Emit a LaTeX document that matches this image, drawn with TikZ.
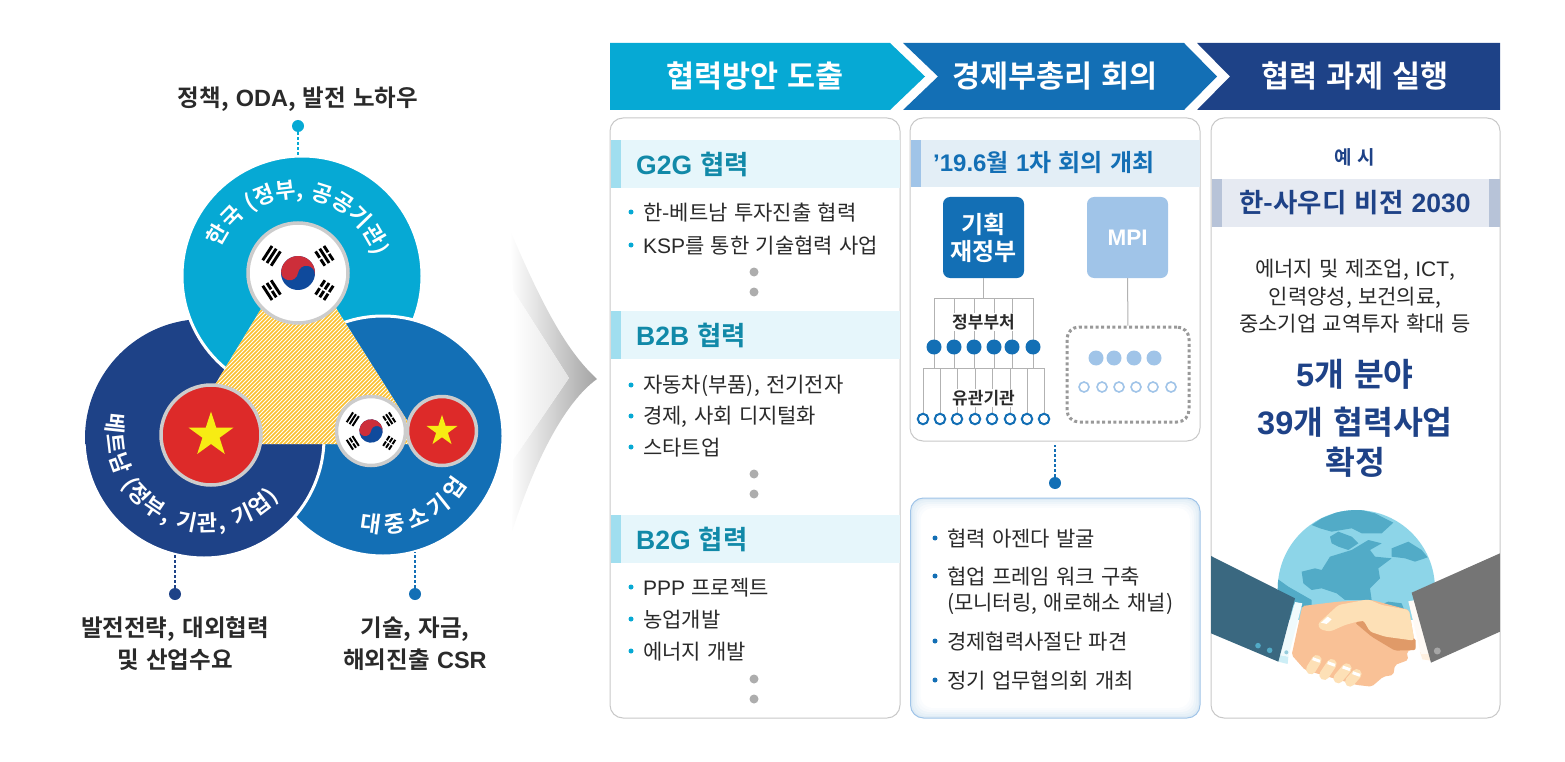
\documentclass[tikz,border=0pt]{standalone}
\usepackage{fontspec}
\usetikzlibrary{decorations.text}
\setmainfont{Noto Sans CJK KR}[BoldFont={Noto Sans CJK KR Bold},WordSpace=1.35]
\newfontfamily\la{Liberation Sans}
\definecolor{cyanc}{HTML}{06A9D4}
\definecolor{bluec}{HTML}{136FB5}
\definecolor{navyc}{HTML}{1E4287}
\definecolor{txtc}{HTML}{2A2A2A}
\definecolor{paleb}{HTML}{A0C4E8}
\definecolor{tealc}{HTML}{1189A8}
\definecolor{rimc}{HTML}{C8C8C8}
\definecolor{redc}{HTML}{DD2A29}
\definecolor{skin}{HTML}{F9C196}
\definecolor{skinl}{HTML}{FDE0B6}
\definecolor{skind}{HTML}{E09A68}
\definecolor{glight}{HTML}{8DD5E8}
\definecolor{gdark}{HTML}{52ABC7}
\definecolor{sleeve}{HTML}{3A6880}
\definecolor{kred}{HTML}{CD2E3A}
\definecolor{kblue}{HTML}{0F4A9C}
\definecolor{vstar}{HTML}{F7EC13}
\definecolor{hatchc}{HTML}{FBC02D}
\newcommand{\fs}[1]{\fontsize{#1}{#1}\selectfont}
\tikzset{
 panel/.style={draw=rimc,line width=1pt,fill=white,rounded corners=13pt},
 lab/.style={text=txtc,font=\fs{23.5}\bfseries,align=center,inner sep=0pt},
 hd/.style={text=white,font=\fs{30.5}\bfseries,inner sep=0pt},
 sect/.style={text=tealc,font=\fs{26.5}\bfseries,anchor=west,inner sep=0pt},
 item/.style={text=txtc,font=\fs{21},anchor=west,inner sep=0pt},
 bul/.style={circle,inner sep=0pt,minimum size=5pt,fill=cyanc},
 gdot/.style={circle,inner sep=0pt,minimum size=9pt,fill=black!32},
 conn/.style={line width=2.4pt,dash pattern=on 2.4pt off 2.6pt},
 tree/.style={draw=black!30,line width=1pt},
 bdot/.style={circle,inner sep=0pt,minimum size=15pt,fill=bluec},
 bring/.style={circle,inner sep=0pt,minimum size=10.5pt,draw=bluec,line width=2pt,fill=white},
 pdot/.style={circle,inner sep=0pt,minimum size=15pt,fill=paleb},
 pring/.style={circle,inner sep=0pt,minimum size=10pt,draw=paleb,line width=1.6pt,fill=white},
 org/.style={minimum width=81pt,minimum height=81pt,inner sep=0pt,rounded corners=7pt,text=white,align=center},
 sm/.style={text=txtc,font=\fs{17}\bfseries,fill=white,inner xsep=1pt,inner ysep=1pt},
}
% Korean flag
\newcommand{\krflag}[4]{%
 \node[circle,inner sep=0pt,minimum size=#4*2pt,fill=white,draw=black!20,line width=3.5pt] (#1) at (#2,#3) {};
 \begin{scope}[shift={(#2,#3)},x=#4pt,y=#4pt]
  \begin{scope}[rotate=-8,scale=.34]
   \fill[kblue] (0,0) circle[radius=1];
   \fill[kred] (-1,0) arc[start angle=180,end angle=0,radius=1] arc[start angle=0,end angle=180,radius=.5] arc[start angle=0,end angle=-180,radius=.5] -- cycle;
  \end{scope}
  \foreach \ang/\ba/\bb/\bc in {147/0/0/0,33/1/0/1,213/0/1/0,327/1/1/1}{
   \begin{scope}[rotate=\ang]
    \foreach \pos/\sp in {.53/\ba,.63/\bb,.73/\bc}{
     \ifnum\sp=0
      \draw[black,line width=#4*.058pt] (\pos,-.17) -- (\pos,.17);
     \else
      \draw[black,line width=#4*.058pt] (\pos,-.17) -- (\pos,-.02) (\pos,.02) -- (\pos,.17);
     \fi}
   \end{scope}}
 \end{scope}}
% Vietnamese flag
\newcommand{\vnflag}[4]{%
 \node[circle,inner sep=0pt,minimum size=#4*2pt,fill=redc,draw=black!20,line width=3.5pt] (#1) at (#2,#3) {};
 \begin{scope}[shift={(#2,#3)},x=#4pt,y=#4pt]
  \fill[vstar] (90:.47) -- (126:.18) -- (162:.47) -- (198:.18) -- (234:.47) -- (270:.18) -- (306:.47) -- (342:.18) -- (18:.47) -- (54:.18) -- cycle;
 \end{scope}}
\begin{document}
\begin{tikzpicture}[x=1pt,y=-1pt]
\path[use as bounding box] (0,0) rectangle (1565,762);
% ---------- three circles
\coordinate (cV) at (204,438);
\coordinate (cK) at (302,276);
\coordinate (cB) at (383,436);
\fill[navyc] (cV) circle[radius=119pt];
\draw[fill=cyanc,draw=white,line width=3pt] (cK) circle[radius=120pt];
\draw[fill=bluec,draw=white,line width=3pt] (cB) circle[radius=120pt];
\begin{scope}
 \clip (0,444) rectangle (600,600);
 \draw[fill=navyc,draw=white,line width=3pt] (cV) circle[radius=120pt];
\end{scope}
% hatched triangle
\begin{scope}
 \clip (298,248) -- (422,444) -- (179,444) -- cycle;
 \fill[white] (150,240) rectangle (440,450);
 \foreach \k in {300,304,...,900}{
  \draw[hatchc,line width=1.7pt] (\k,240) -- (\k-210,450);}
\end{scope}
\krflag{fK}{298}{273}{50}
\vnflag{fV}{211}{435}{50}
\krflag{fK2}{371}{431}{34.5}
\vnflag{fV2}{442}{431}{34.5}
% curved titles
\begin{scope}[shift={(296,280)},x=1pt,y=1pt]
 \path[decorate,decoration={text along path,text align={fit to path},
  text={|\fs{22}\bfseries\color{white}|한국 (정부, 공공기관)}}] (157:82) arc[start angle=157,end angle=17,radius=82];
\end{scope}
\begin{scope}[shift={(205,433)},x=1pt,y=1pt]
 \path[decorate,decoration={text along path,text align={fit to path},
  text={|\fs{22}\bfseries\color{white}|베트남 (정부, 기관, 기업)}}] (168:98) arc[start angle=168,end angle=319,radius=98];
\end{scope}
\begin{scope}[shift={(383,436)},x=1pt,y=1pt]
 \path[decorate,decoration={text along path,text align={fit to path},
  text={|\fs{22.5}\bfseries\color{white}|대중소기업}}] (256:97) arc[start angle=256,end angle=330,radius=97];
\end{scope}
% left labels and connectors
\node[lab] (lK) at (298,99.5) {정책, {\la ODA}, 발전 노하우};
\node[lab] (lV) at (175,643.5) {발전전략, 대외협력\\[6pt]및 산업수요};
\node[lab] (lB) at (415,643.5) {기술, 자금,\\[6pt]해외진출 {\la CSR}};
\node[circle,fill=cyanc,inner sep=0pt,minimum size=12pt] (dK) at (298,126) {};
\node[circle,fill=navyc,inner sep=0pt,minimum size=12pt] (dV) at (175,594) {};
\node[circle,fill=bluec,inner sep=0pt,minimum size=12pt] (dB) at (415,594) {};
\coordinate (eK) at (298,155); \coordinate (eV) at (175,555); \coordinate (eB) at (415,552);
\draw[conn,cyanc] (dK) -- (eK);
\draw[conn,navyc] (dV) -- (eV);
\draw[conn,bluec] (dB) -- (eB);
% big fading chevron
\path[left color=white,right color=black!36]
 (510,230) .. controls (540,300) and (565,350) .. (597,379) .. controls (565,402) and (535,460) .. (512,532) -- (513,460) -- (569,378) -- (513,290) -- cycle;
\path[left color=white,right color=black!11] (513,290) -- (569,378) -- (513,460) -- cycle;
% ---------- header arrows
\fill[cyanc] (610,43) -- (890,43) -- (925,76.5) -- (890,110) -- (610,110) -- cycle;
\fill[bluec] (903,43) -- (1184,43) -- (1217,76.5) -- (1184,110) -- (903,110) -- (938,76.5) -- cycle;
\fill[navyc] (1197,43) -- (1500,43) -- (1500,110) -- (1197,110) -- (1230,76.5) -- cycle;
\node[hd] (h1) at (755,76) {협력방안 도출};
\node[hd] (h2) at (1055,76) {경제부총리 회의};
\node[hd] (h3) at (1355,76) {협력 과제 실행};
% ---------- panels
\draw[panel] (610,118) rectangle (900,718);
\draw[panel] (910,118) rectangle (1200,441);
\draw[panel] (1211,118) rectangle (1500,718);
% panel 1
\foreach \yy in {140,311,515}{
 \fill[cyanc!10] (621,\yy) rectangle (899.5,\yy+48);
 \fill[cyanc!38] (610.5,\yy) rectangle (621,\yy+48);}
\node[sect] (s1) at (636,164) {{\la G2G} 협력};
\node[sect] (s2) at (636,335) {{\la B2B} 협력};
\node[sect] (s3) at (636,539) {{\la B2G} 협력};
\foreach \nm/\yy/\tx in {a/212/{한-베트남 투자진출 협력},b/245/{{\la KSP}를 통한 기술협력 사업},c/385/{자동차(부품), 전기전자},d/416/{경제, 사회 디지털화},e/447/{스타트업},f/587/{{\la PPP} 프로젝트},g/619/{농업개발},i/651/{에너지 개발}}{
 \node[bul] (bu\nm) at (631,\yy) {};
 \node[item] (it\nm) at (643,\yy+1) {\tx};}
\foreach \yy in {272,292,474,494,679,699}{
 \node[gdot] (gd\yy) at (754,\yy) {};}
% panel 2
\fill[bluec!12] (921,140) rectangle (1199.5,187);
\fill[paleb] (910.5,140) rectangle (921,187);
\node[text=bluec,font=\fs{24}\bfseries,anchor=west,inner sep=0pt] (s4) at (933,163) {{\la ’19.6}월 {\la 1}차 회의 개최};
\node[org,fill=bluec,font=\fs{24}\bfseries] (mofe) at (983.5,237.5) {기획\\[3pt]재정부};
\node[org,fill=paleb,font=\fs{22.5}\bfseries] (mpi) at (1127.5,237.5) {\la MPI};
\coordinate (t0) at (983.5,298);
\draw[tree] (mofe) -- (t0);
\foreach \i/\xx in {1/934,2/954,3/974,4/994,5/1012,6/1033}{
 \coordinate (t\i) at (\xx,298);
 \coordinate (u\i) at (\xx,368);
 \draw[tree] (t\i) -- (u\i);}
\draw[tree] (t1) -- (t6);
\foreach \i/\xx in {1/923,2/940,3/957,4/975,5/992,6/1010,7/1027,8/1044}{
 \coordinate (v\i) at (\xx,368);
 \coordinate (w\i) at (\xx,419);
 \draw[tree] (v\i) -- (w\i);}
\draw[tree] (v1) -- (v8);
\foreach \i/\xx in {1/934,2/954,3/974,4/994,5/1012,6/1033}{
 \node[bdot] (g\i) at (\xx,347) {};}
\foreach \i/\xx in {1/923,2/940,3/957,4/975,5/992,6/1010,7/1027,8/1044}{
 \node[bring] (r\i) at (\xx,419) {};}
\node[sm] (n1) at (983.5,322) {정부부처};
\node[sm] (n2) at (983.5,398) {유관기관};
\node[draw=black!40,line width=3pt,dash pattern=on 3pt off 2.6pt,rounded corners=12pt,minimum width=122pt,minimum height=95pt,inner sep=0pt] (mbox) at (1128,374.5) {};
\draw[tree] (mpi) -- (mbox);
\foreach \xx in {1096,1114,1134,1154}{ \node[pdot] (p\xx) at (\xx,358) {}; }
\foreach \xx in {1084,1102,1119,1136,1153,1171}{ \node[pring] (q\xx) at (\xx,387) {}; }
% connector between the blue panels
\node[circle,fill=bluec,inner sep=0pt,minimum size=12pt] (dC) at (1055,483) {};
\coordinate (eC) at (1055,445);
\draw[conn,bluec] (dC) -- (eC);
% panel 2b with inner glow
\draw[rounded corners=13pt,draw=paleb,line width=1pt,fill=bluec!14] (910.5,498) rectangle (1200,718);
\foreach \st/\op in {2/10,4/7,6/4,8/2,10/0}{
 \fill[rounded corners=12pt,fill=bluec!\op!white] (910.5+\st,498+\st) rectangle (1200-\st,718-\st);}
\foreach \nm/\yy/\tx in {a/538/{협력 아젠다 발굴},b/576/{협업 프레임 워크 구축},d/641/{경제협력사절단 파견},e/680/{정기 업무협의회 개최}}{
 \node[bul,fill=bluec] (cu\nm) at (935,\yy) {};
 \node[item] (ct\nm) at (947,\yy+1) {\tx};}
\node[item] (ctc) at (947,604) {(모니터링, 애로해소 채널)};
% panel 3
\node[text=navyc,font=\fs{19}\bfseries,inner sep=0pt] (ex) at (1355,157) {예 시};
\fill[navyc!11] (1222,179) rectangle (1489,227);
\fill[navyc!32] (1211.5,179) rectangle (1222,227);
\fill[navyc!32] (1489,179) rectangle (1499.5,227);
\node[text=navyc,font=\fs{26.5}\bfseries,inner sep=0pt] (s5) at (1355,203) {한-사우디 비전 {\la 2030}};
\node[text=txtc,font=\fs{21},inner sep=0pt,align=center] (desc) at (1355,296.5) {에너지 및 제조업, {\la ICT},\\[5pt]인력양성, 보건의료,\\[5pt]중소기업 교역투자 확대 등};
\node[text=navyc,font=\fs{32.5}\bfseries,inner sep=0pt] (big1) at (1355,374) {{\la 5}개 분야};
\node[text=navyc,font=\fs{32.5}\bfseries,inner sep=0pt] (big2) at (1355,422) {{\la 39}개 협력사업};
\node[text=navyc,font=\fs{32.5}\bfseries,inner sep=0pt] (big3) at (1355,462) {확정};
% ---------- globe and handshake (coordinates of the crop)
\begin{scope}[shift={(1205,500)},x=.3333pt,y=-.3333pt]
 \begin{scope}
  \clip (454,266) circle[radius=78.6pt];
  \fill[glight] (200,20) rectangle (710,360);
  \fill[gdark] (320,75) -- (350,55) -- (400,35) -- (450,25) -- (510,40) -- (565,68) -- (530,100) -- (470,100) -- (440,85) -- (380,95) -- (345,85) -- cycle;
  \fill[gdark] (375,110) -- (400,95) -- (440,110) -- (460,130) -- (430,150) -- (400,140) -- (380,130) -- cycle;
  \fill[gdark] (375,170) -- (440,150) -- (490,120) -- (530,130) -- (495,150) -- (510,170) -- (560,175) -- (520,205) -- (525,235) -- (495,265) -- (500,300) -- (420,300) -- (395,280) -- (350,265) -- (320,270) -- (295,250) -- (290,215) -- (330,205) -- (350,210) -- cycle;
  \fill[gdark] (560,145) -- (610,125) -- (650,150) -- (668,172) -- (630,185) -- (600,175) -- (560,170) -- cycle;
  \fill[gdark] (215,235) -- (250,260) -- (320,300) -- (320,330) -- (215,300) -- cycle;
  \fill[gdark] (525,315) -- (550,305) -- (590,310) -- (600,335) -- (530,335) -- cycle;
 \end{scope}
 % hands
 \fill[skin,rounded corners=2pt] (292,318) -- (400,305) -- (500,300) -- (612,330) -- (632,445) -- (605,455) -- (610,480) -- (570,495) -- (565,525) -- (535,530) -- (500,560) -- (455,555) -- (300,510) -- (260,465) -- cycle;
 \fill[skind,rounded corners=2pt] (450,368) -- (480,362) -- (510,400) -- (632,415) -- (632,450) -- (570,452) -- (500,410) -- cycle;
 \fill[skinl,rounded corners=3pt] (338,372) -- (400,315) -- (490,298) -- (530,315) -- (612,330) -- (628,422) -- (540,410) -- (495,395) -- (475,360) -- (420,375) -- (375,395) -- (345,388) -- cycle;
 \fill[white] (348,368) -- (368,350) -- (380,358) -- (365,372) -- cycle;
 \foreach \xa/\ya/\xb/\yb in {335/480/318/508,380/492/358/525,425/505/400/535,455/522/435/545}{
  \draw[skinl,line width=10pt,line cap=round] (\xa,\ya) -- (\xb,\yb);
  \draw[white,line width=3pt] (\xa-12,\ya-4) -- (\xa+10,\ya+4);}
 % sleeves and cuffs
 \fill[cyanc!20] (222,465) -- (250,470) -- (248,492) -- (220,485) -- cycle;
 \fill[cyanc!6] (270,306) -- (292,310) -- (250,470) -- (225,465) -- cycle;
 \fill[orange!12] (645,456) -- (672,462) -- (678,482) -- (652,478) -- cycle;
 \fill[orange!4] (610,304) -- (632,300) -- (672,462) -- (648,462) -- cycle;
 \fill[sleeve] (18,168) -- (270,295) -- (220,485) -- (18,400) -- cycle;
 \fill[black!54] (885,160) -- (620,278) -- (678,488) -- (885,395) -- cycle;
 \fill[gdark] (159,437) circle[radius=2.8pt];
 \fill[gdark] (194,451) circle[radius=2.8pt];
 \fill[gdark!60] (244,457) circle[radius=2pt];
 \fill[black!35] (697,453) circle[radius=3.5pt];
\end{scope}
\end{tikzpicture}
\end{document}
